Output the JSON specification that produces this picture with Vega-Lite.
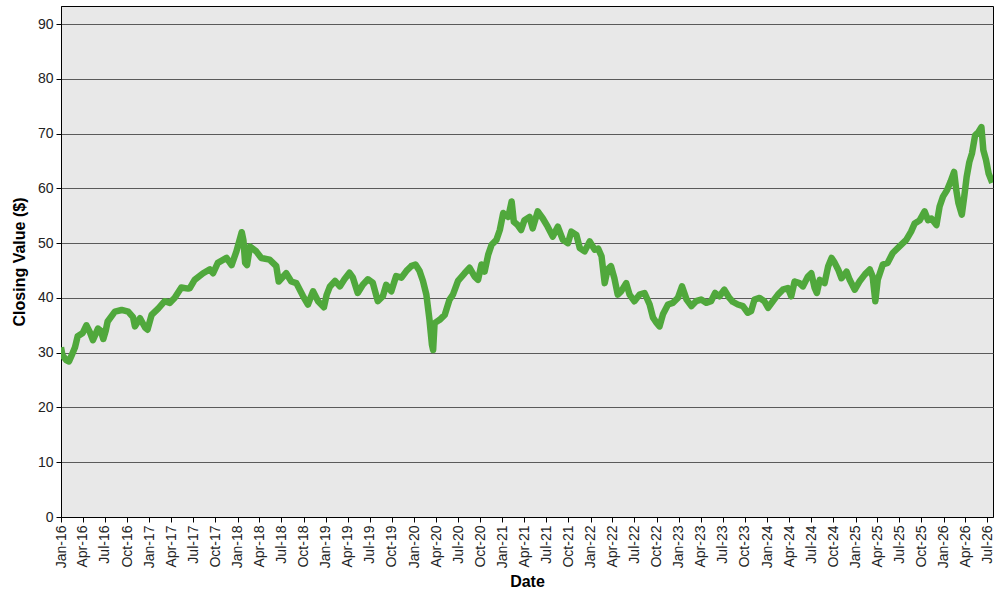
{
  "$schema": "https://vega.github.io/schema/vega-lite/v6.json",
  "width": 932,
  "height": 511,
  "autosize": {"type": "none"},
  "padding": {"left": 61, "top": 6, "right": 7, "bottom": 83},
  "background": "#ffffff",
  "data": {
    "values": [
      {"date": "2016-01-01", "close": 31.0},
      {"date": "2016-01-07", "close": 29.5},
      {"date": "2016-01-24", "close": 28.6},
      {"date": "2016-02-03", "close": 28.4},
      {"date": "2016-02-14", "close": 29.5},
      {"date": "2016-02-28", "close": 31.0},
      {"date": "2016-03-10", "close": 33.0},
      {"date": "2016-03-31", "close": 33.6},
      {"date": "2016-04-15", "close": 35.0},
      {"date": "2016-04-29", "close": 33.8},
      {"date": "2016-05-12", "close": 32.3},
      {"date": "2016-06-02", "close": 34.4},
      {"date": "2016-06-14", "close": 34.0},
      {"date": "2016-06-24", "close": 32.5},
      {"date": "2016-07-04", "close": 34.0},
      {"date": "2016-07-12", "close": 35.7},
      {"date": "2016-08-11", "close": 37.5},
      {"date": "2016-09-08", "close": 37.8},
      {"date": "2016-10-05", "close": 37.5},
      {"date": "2016-10-25", "close": 36.5},
      {"date": "2016-11-02", "close": 34.8},
      {"date": "2016-11-23", "close": 36.3},
      {"date": "2016-12-14", "close": 34.6},
      {"date": "2016-12-24", "close": 34.2},
      {"date": "2017-01-10", "close": 36.9},
      {"date": "2017-02-07", "close": 38.1},
      {"date": "2017-03-05", "close": 39.4},
      {"date": "2017-03-26", "close": 39.1},
      {"date": "2017-04-15", "close": 40.0},
      {"date": "2017-05-13", "close": 41.9},
      {"date": "2017-06-10", "close": 41.7},
      {"date": "2017-06-17", "close": 41.8},
      {"date": "2017-07-07", "close": 43.3},
      {"date": "2017-08-11", "close": 44.5},
      {"date": "2017-09-08", "close": 45.2},
      {"date": "2017-09-21", "close": 44.5},
      {"date": "2017-10-11", "close": 46.4},
      {"date": "2017-11-16", "close": 47.3},
      {"date": "2017-12-07", "close": 46.0},
      {"date": "2017-12-27", "close": 48.5},
      {"date": "2018-01-18", "close": 52.0},
      {"date": "2018-01-25", "close": 50.5},
      {"date": "2018-02-01", "close": 46.4},
      {"date": "2018-02-09", "close": 46.0},
      {"date": "2018-02-21", "close": 49.4},
      {"date": "2018-03-19", "close": 48.5},
      {"date": "2018-04-09", "close": 47.3},
      {"date": "2018-05-13", "close": 47.0},
      {"date": "2018-06-10", "close": 45.8},
      {"date": "2018-06-20", "close": 43.0},
      {"date": "2018-07-21", "close": 44.5},
      {"date": "2018-08-11", "close": 43.0},
      {"date": "2018-09-01", "close": 42.7},
      {"date": "2018-09-29", "close": 40.3},
      {"date": "2018-10-19", "close": 38.8},
      {"date": "2018-11-09", "close": 41.2},
      {"date": "2018-11-30", "close": 39.4},
      {"date": "2018-12-24", "close": 38.3},
      {"date": "2019-01-04", "close": 40.5},
      {"date": "2019-01-18", "close": 42.1},
      {"date": "2019-02-08", "close": 43.1},
      {"date": "2019-02-28", "close": 42.1},
      {"date": "2019-03-19", "close": 43.4},
      {"date": "2019-04-09", "close": 44.6},
      {"date": "2019-04-23", "close": 43.7},
      {"date": "2019-05-13", "close": 40.9},
      {"date": "2019-06-03", "close": 42.4},
      {"date": "2019-06-24", "close": 43.4},
      {"date": "2019-07-14", "close": 42.8},
      {"date": "2019-08-04", "close": 39.4},
      {"date": "2019-08-25", "close": 40.3},
      {"date": "2019-09-08", "close": 42.4},
      {"date": "2019-09-29", "close": 41.2},
      {"date": "2019-10-19", "close": 44.0},
      {"date": "2019-11-10", "close": 43.7},
      {"date": "2019-11-30", "close": 44.9},
      {"date": "2019-12-20", "close": 45.8},
      {"date": "2020-01-07", "close": 46.1},
      {"date": "2020-01-24", "close": 44.9},
      {"date": "2020-02-07", "close": 43.1},
      {"date": "2020-02-21", "close": 40.6},
      {"date": "2020-03-05", "close": 36.0},
      {"date": "2020-03-15", "close": 31.5},
      {"date": "2020-03-20", "close": 30.5},
      {"date": "2020-03-26", "close": 35.4},
      {"date": "2020-04-16", "close": 36.0},
      {"date": "2020-05-07", "close": 36.9},
      {"date": "2020-05-27", "close": 39.7},
      {"date": "2020-06-10", "close": 40.6},
      {"date": "2020-07-01", "close": 43.1},
      {"date": "2020-07-28", "close": 44.5},
      {"date": "2020-08-18", "close": 45.5},
      {"date": "2020-09-08", "close": 43.9},
      {"date": "2020-09-22", "close": 43.3},
      {"date": "2020-10-06", "close": 46.1},
      {"date": "2020-10-19", "close": 44.8},
      {"date": "2020-11-03", "close": 47.9},
      {"date": "2020-11-17", "close": 49.7},
      {"date": "2020-12-07", "close": 50.6},
      {"date": "2020-12-21", "close": 52.4},
      {"date": "2021-01-04", "close": 55.5},
      {"date": "2021-01-25", "close": 54.8},
      {"date": "2021-02-08", "close": 57.6},
      {"date": "2021-02-17", "close": 53.9},
      {"date": "2021-03-05", "close": 53.3},
      {"date": "2021-03-19", "close": 52.4},
      {"date": "2021-04-02", "close": 54.2},
      {"date": "2021-04-23", "close": 54.8},
      {"date": "2021-05-06", "close": 52.7},
      {"date": "2021-05-27", "close": 55.8},
      {"date": "2021-06-17", "close": 54.5},
      {"date": "2021-07-07", "close": 53.0},
      {"date": "2021-07-28", "close": 51.2},
      {"date": "2021-08-18", "close": 53.0},
      {"date": "2021-09-08", "close": 50.6},
      {"date": "2021-09-29", "close": 50.0},
      {"date": "2021-10-13", "close": 52.1},
      {"date": "2021-11-03", "close": 51.5},
      {"date": "2021-11-17", "close": 49.1},
      {"date": "2021-12-07", "close": 48.5},
      {"date": "2021-12-28", "close": 50.3},
      {"date": "2022-01-18", "close": 48.8},
      {"date": "2022-02-01", "close": 49.0},
      {"date": "2022-02-15", "close": 47.6},
      {"date": "2022-02-28", "close": 42.7},
      {"date": "2022-03-12", "close": 45.2},
      {"date": "2022-03-26", "close": 45.8},
      {"date": "2022-04-09", "close": 43.6},
      {"date": "2022-04-23", "close": 40.6},
      {"date": "2022-05-07", "close": 41.2},
      {"date": "2022-05-28", "close": 42.7},
      {"date": "2022-06-11", "close": 40.6},
      {"date": "2022-07-01", "close": 39.4},
      {"date": "2022-07-22", "close": 40.6},
      {"date": "2022-08-12", "close": 40.9},
      {"date": "2022-09-02", "close": 38.8},
      {"date": "2022-09-16", "close": 36.4},
      {"date": "2022-09-30", "close": 35.5},
      {"date": "2022-10-13", "close": 34.8},
      {"date": "2022-10-27", "close": 37.0},
      {"date": "2022-11-17", "close": 38.8},
      {"date": "2022-12-07", "close": 39.1},
      {"date": "2022-12-28", "close": 40.0},
      {"date": "2023-01-14", "close": 42.1},
      {"date": "2023-02-02", "close": 39.7},
      {"date": "2023-02-22", "close": 38.5},
      {"date": "2023-03-13", "close": 39.4},
      {"date": "2023-04-03", "close": 39.7},
      {"date": "2023-04-24", "close": 39.1},
      {"date": "2023-05-14", "close": 39.4},
      {"date": "2023-05-31", "close": 40.9},
      {"date": "2023-06-18", "close": 40.3},
      {"date": "2023-07-08", "close": 41.5},
      {"date": "2023-07-29", "close": 40.0},
      {"date": "2023-08-12", "close": 39.3},
      {"date": "2023-09-02", "close": 38.8},
      {"date": "2023-09-23", "close": 38.5},
      {"date": "2023-10-13", "close": 37.3},
      {"date": "2023-10-27", "close": 37.6},
      {"date": "2023-11-10", "close": 39.7},
      {"date": "2023-12-01", "close": 40.0},
      {"date": "2023-12-21", "close": 39.4},
      {"date": "2024-01-05", "close": 38.2},
      {"date": "2024-01-25", "close": 39.4},
      {"date": "2024-02-15", "close": 40.6},
      {"date": "2024-03-06", "close": 41.5},
      {"date": "2024-03-27", "close": 41.8},
      {"date": "2024-04-10", "close": 40.3},
      {"date": "2024-04-24", "close": 43.0},
      {"date": "2024-05-14", "close": 42.7},
      {"date": "2024-05-28", "close": 42.1},
      {"date": "2024-06-18", "close": 43.9},
      {"date": "2024-07-02", "close": 44.5},
      {"date": "2024-07-16", "close": 41.8},
      {"date": "2024-07-25", "close": 40.9},
      {"date": "2024-08-06", "close": 43.3},
      {"date": "2024-08-26", "close": 42.7},
      {"date": "2024-09-10", "close": 45.8},
      {"date": "2024-09-24", "close": 47.3},
      {"date": "2024-10-07", "close": 46.4},
      {"date": "2024-10-21", "close": 45.2},
      {"date": "2024-11-04", "close": 43.6},
      {"date": "2024-11-25", "close": 44.8},
      {"date": "2024-12-08", "close": 43.3},
      {"date": "2024-12-29", "close": 41.5},
      {"date": "2025-01-19", "close": 43.1},
      {"date": "2025-02-09", "close": 44.3},
      {"date": "2025-03-01", "close": 45.2},
      {"date": "2025-03-13", "close": 43.9},
      {"date": "2025-03-24", "close": 39.4},
      {"date": "2025-04-03", "close": 43.3},
      {"date": "2025-04-24", "close": 46.1},
      {"date": "2025-05-14", "close": 46.4},
      {"date": "2025-06-04", "close": 48.2},
      {"date": "2025-07-02", "close": 49.4},
      {"date": "2025-07-30", "close": 50.6},
      {"date": "2025-08-19", "close": 52.1},
      {"date": "2025-09-03", "close": 53.6},
      {"date": "2025-09-24", "close": 54.2},
      {"date": "2025-10-14", "close": 55.8},
      {"date": "2025-10-28", "close": 54.2},
      {"date": "2025-11-11", "close": 54.5},
      {"date": "2025-12-02", "close": 53.3},
      {"date": "2025-12-15", "close": 56.7},
      {"date": "2025-12-29", "close": 58.5},
      {"date": "2026-01-15", "close": 59.7},
      {"date": "2026-01-29", "close": 61.2},
      {"date": "2026-02-13", "close": 63.0},
      {"date": "2026-02-22", "close": 59.7},
      {"date": "2026-03-03", "close": 57.3},
      {"date": "2026-03-17", "close": 55.2},
      {"date": "2026-03-27", "close": 58.5},
      {"date": "2026-04-06", "close": 62.1},
      {"date": "2026-04-17", "close": 64.8},
      {"date": "2026-04-28", "close": 66.4},
      {"date": "2026-05-11", "close": 69.7},
      {"date": "2026-05-25", "close": 70.3},
      {"date": "2026-06-06", "close": 71.2},
      {"date": "2026-06-14", "close": 67.0},
      {"date": "2026-06-25", "close": 65.2},
      {"date": "2026-07-06", "close": 62.7},
      {"date": "2026-07-21", "close": 61.0}
    ]
  },
  "mark": {"type": "line", "color": "#50a83c", "strokeWidth": 6.5, "strokeJoin": "round", "strokeCap": "butt", "clip": true},
  "encoding": {
    "x": {
      "field": "date",
      "type": "temporal",
      "title": "Date",
      "scale": {
        "type": "utc",
        "nice": false,
        "domain": [
          {"year": 2016, "month": 1, "date": 1, "utc": true},
          {"year": 2026, "month": 7, "date": 24, "utc": true}
        ]
      },
      "axis": {
        "tickCount": {"interval": "month", "step": 3},
        "format": "%b-%y",
        "labelAngle": 270,
        "labelAlign": "right",
        "labelBaseline": "middle",
        "labelOverlap": false,
        "labelBound": false,
        "labelFlush": false,
        "labelPadding": 3,
        "grid": false,
        "titlePadding": 6
      }
    },
    "y": {
      "field": "close",
      "type": "quantitative",
      "title": "Closing Value ($)",
      "scale": {"domain": [0, 93.3], "nice": false, "zero": true},
      "axis": {
        "values": [0, 10, 20, 30, 40, 50, 60, 70, 80, 90],
        "grid": true,
        "gridColor": "#5a5a5a",
        "gridOpacity": 1,
        "gridWidth": 1,
        "labelPadding": 3,
        "titlePadding": 10
      }
    }
  },
  "config": {
    "font": "Liberation Sans",
    "view": {"fill": "#e8e8e8", "stroke": "#000000", "strokeWidth": 1},
    "axis": {
      "labelFont": "Liberation Sans",
      "labelFontSize": 14,
      "labelColor": "#222222",
      "titleFont": "Liberation Sans",
      "titleFontSize": 16,
      "titleFontWeight": "bold",
      "titleColor": "#000000",
      "domainColor": "#000000",
      "tickColor": "#000000",
      "tickSize": 5,
      "domainWidth": 1
    }
  }
}
